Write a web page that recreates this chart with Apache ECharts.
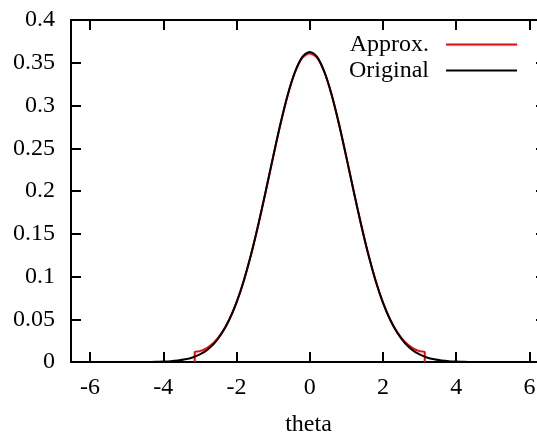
<!DOCTYPE html>
<html>
<head>
<meta charset="utf-8">
<title>theta density</title>
<script src="https://cdn.jsdelivr.net/npm/echarts@6/dist/echarts.min.js"></script>
<style>
  html, body { margin: 0; padding: 0; background: #ffffff; }
  #chart { width: 537px; height: 436px; }
</style>
</head>
<body>
<div id="chart"></div>
<script>
// Original density sampled along theta
var origTheta = [-6.5, -4.6, -4.4, -4.2, -4.0, -3.8, -3.6, -3.4, -3.2, -3.0, -2.8, -2.6, -2.4, -2.2, -2.0,
  -1.8, -1.6, -1.4, -1.2, -1.0, -0.8, -0.6, -0.4, -0.2, 0.0, 0.2, 0.4, 0.6, 0.8, 1.0, 1.2, 1.4, 1.6, 1.8,
  2.0, 2.2, 2.4, 2.6, 2.8, 3.0, 3.2, 3.4, 3.6, 3.8, 4.0, 4.2, 4.4, 4.6, 6.5];
var origDensity = [0, 0, 0.0001, 0.0002, 0.0005, 0.0009, 0.0017, 0.0031, 0.0053, 0.0088, 0.0142, 0.0222, 0.0336, 0.0491, 0.0695,
  0.0951, 0.1259, 0.1614, 0.2000, 0.2399, 0.2784, 0.3126, 0.3395, 0.3568, 0.3627, 0.3568, 0.3395, 0.3126, 0.2784, 0.2399, 0.2000, 0.1614, 0.1259, 0.0951,
  0.0695, 0.0491, 0.0336, 0.0222, 0.0142, 0.0088, 0.0053, 0.0031, 0.0017, 0.0009, 0.0005, 0.0002, 0.0001, 0, 0];

// Approximation, defined on [-pi, pi], dropping to zero at both ends
var approxTheta = [-3.1416, -3.1416, -3.0, -2.8, -2.6, -2.4, -2.2, -2.0, -1.8, -1.6, -1.4, -1.2, -1.0, -0.8, -0.6, -0.4, -0.2,
  0.0, 0.2, 0.4, 0.6, 0.8, 1.0, 1.2, 1.4, 1.6, 1.8, 2.0, 2.2, 2.4, 2.6, 2.8, 3.0, 3.1416, 3.1416];
var approxDensity = [0, 0.0118, 0.0127, 0.0166, 0.0235, 0.0343, 0.0495, 0.0697, 0.0952, 0.1259, 0.1613, 0.1998, 0.2396, 0.2780, 0.3121, 0.3389, 0.3560,
  0.3608, 0.3560, 0.3389, 0.3121, 0.2780, 0.2396, 0.1998, 0.1613, 0.1259, 0.0952, 0.0697, 0.0495, 0.0343, 0.0235, 0.0166, 0.0127, 0.0118, 0];

var xTicks = [-6, -4, -2, 0, 2, 4, 6];
var seriesNames = ['Approx.', 'Original'];
var xName = 'theta';

function pairs(xs, ys) {
  return xs.map(function (x, i) { return [x, ys[i]]; });
}

var FONT = '"Liberation Serif", "DejaVu Serif", serif';
var chart = echarts.init(document.getElementById('chart'), null, { renderer: 'canvas' });

var lineAxis = { onZero: false, lineStyle: { color: '#000', width: 2 } };
var tickIn = { inside: true, length: 10, lineStyle: { color: '#000', width: 2 } };

chart.setOption({
  animation: false,
  backgroundColor: '#ffffff',
  grid: { left: 71, right: -9, top: 20, bottom: 74, containLabel: false, outerBoundsMode: 'none' },
  legend: {
    data: seriesNames,
    orient: 'vertical',
    align: 'right',
    right: 20,
    top: 32.5,
    padding: 0,
    itemGap: 2,
    itemWidth: 71,
    itemHeight: 2,
    icon: 'rect',
    textStyle: { fontFamily: FONT, fontSize: 24, color: '#000', padding: [0, 12, 0, 0] }
  },
  xAxis: [
    {
      type: 'value', position: 'bottom', min: -6.52, max: 6.454,
      axisLine: lineAxis,
      axisTick: Object.assign({ customValues: xTicks }, tickIn),
      axisLabel: { customValues: xTicks, fontFamily: FONT, fontSize: 24, color: '#000', margin: 14 },
      splitLine: { show: false },
      name: xName, nameLocation: 'middle', nameGap: 51,
      nameTextStyle: { fontFamily: FONT, fontSize: 24, color: '#000' }
    },
    {
      type: 'value', position: 'top', min: -6.52, max: 6.454,
      axisLine: lineAxis,
      axisTick: Object.assign({ customValues: xTicks }, tickIn),
      axisLabel: { show: false },
      splitLine: { show: false }
    }
  ],
  yAxis: [
    {
      type: 'value', position: 'left', min: 0, max: 0.4, interval: 0.05,
      axisLine: lineAxis,
      axisTick: tickIn,
      axisLabel: { fontFamily: FONT, fontSize: 24, color: '#000', margin: 16 },
      splitLine: { show: false }
    },
    {
      type: 'value', position: 'right', min: 0, max: 0.4, interval: 0.05,
      axisLine: lineAxis,
      axisTick: tickIn,
      axisLabel: { show: false },
      splitLine: { show: false }
    }
  ],
  series: [
    {
      name: seriesNames[0], type: 'line', data: pairs(approxTheta, approxDensity),
      symbol: 'none', smooth: 0.3,
      lineStyle: { color: '#ff0000', width: 2 }, itemStyle: { color: '#ff0000' }
    },
    {
      name: seriesNames[1], type: 'line', data: pairs(origTheta, origDensity),
      symbol: 'none', smooth: 0.3,
      lineStyle: { color: '#000000', width: 2 }, itemStyle: { color: '#000000' }
    }
  ]
});
</script>
</body>
</html>
